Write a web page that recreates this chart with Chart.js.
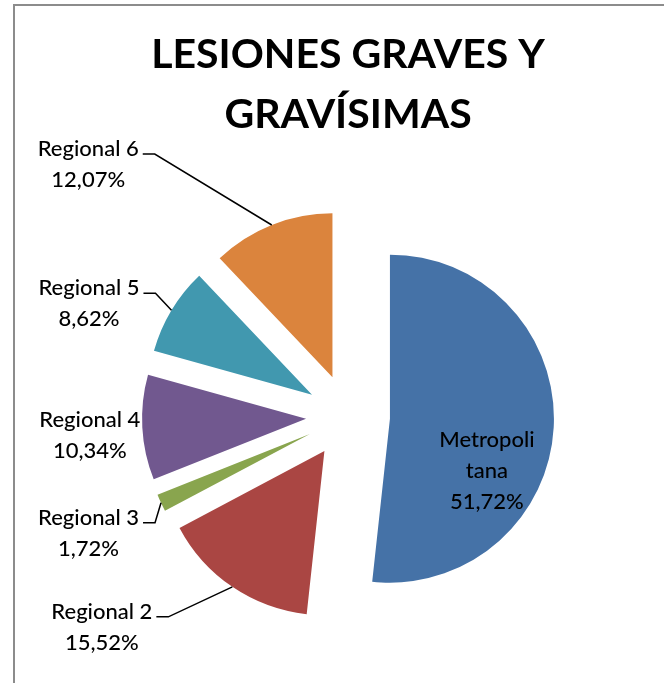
<!DOCTYPE html>
<html><head><meta charset="utf-8">
<script src="https://cdn.jsdelivr.net/npm/chart.js@4.4.1/dist/chart.umd.min.js"></script>
<style>
html,body{margin:0;padding:0;background:#fff;}
#wrap{position:relative;width:664px;height:683px;overflow:hidden;}
#frame{position:absolute;left:13px;top:4px;width:800px;height:800px;border-left:2px solid #8c8c8c;border-top:2px solid #8c8c8c;}
canvas{position:absolute;left:0;top:0;}
</style></head><body>
<div id="wrap"><div id="frame"></div><canvas id="c" width="664" height="683"></canvas></div>
<script>
const categories = ['Metropolitana', 'Regional 2', 'Regional 3', 'Regional 4', 'Regional 5', 'Regional 6'];
const percentages = [51.72, 15.52, 1.72, 10.34, 8.62, 12.07];
const sliceColors = ['#4572A7', '#AA4643', '#89A54E', '#71588F', '#4198AF', '#DB843D'];
const titleLines = ['LESIONES GRAVES Y', 'GRAVÍSIMAS'];

const explodePlugin = {
  id: 'explode',
  beforeDatasetDraw(chart, args, opts) {
    const ctx = chart.ctx, d = opts.distance;
    args.meta.data.forEach(el => {
      const mid = (el.startAngle + el.endAngle) / 2;
      ctx.save();
      ctx.translate(Math.cos(mid) * d, Math.sin(mid) * d);
      el.draw(ctx, chart.chartArea);
      ctx.restore();
    });
    return false;
  }
};

const labelPlugin = {
  id: 'sliceLabels',
  afterDatasetsDraw(chart, args, opts) {
    const ctx = chart.ctx;
    const meta = chart.getDatasetMeta(0);
    const d = chart.options.plugins.explode.distance;
    ctx.save();
    ctx.font = opts.font;
    ctx.fillStyle = opts.color;
    ctx.strokeStyle = opts.lineColor;
    ctx.lineWidth = 1.5;
    ctx.textAlign = 'center';
    ctx.textBaseline = 'middle';
    meta.data.forEach((el, i) => {
      const mid = (el.startAngle + el.endAngle) / 2;
      const cx = Math.cos(mid), cy = Math.sin(mid);
      const ax = el.x + cx * d, ay = el.y + cy * d;
      const name = categories[i];
      const br = opts.breaks[i];
      const lines = br ? [name.slice(0, br), name.slice(br)] : [name];
      lines.push(percentages[i].toFixed(2).replace('.', ',') + '%');
      const sh = opts.shifts[i];
      const lh = opts.lineHeight;
      if (opts.inside[i]) {
        const bx = ax + sh[0], by = ay + sh[1];
        lines.forEach((t, k) => ctx.fillText(t, bx, by + (k - (lines.length - 1) / 2) * lh));
        return;
      }
      const ox = ax + cx * el.outerRadius, oy = ay + cy * el.outerRadius;
      const ex = ox + sh[0], ey = oy + sh[1];
      const leader = Math.hypot(sh[0], sh[1]) > 10;
      const w = Math.max(...lines.map(t => ctx.measureText(t).width));
      const right = leader ? ex - opts.tail - 4 : ex - 2;
      const tx = right - w / 2;
      lines.forEach((t, k) => ctx.fillText(t, tx, ey - 5 + k * lh));
      if (leader) {
        ctx.beginPath();
        ctx.moveTo(ex - opts.tail, ey);
        ctx.lineTo(ex, ey);
        ctx.lineTo(ox, oy);
        ctx.stroke();
      }
    });
    ctx.restore();
  }
};

new Chart(document.getElementById('c'), {
  type: 'pie',
  data: {
    labels: categories,
    datasets: [{
      data: percentages,
      backgroundColor: sliceColors,
      borderWidth: 0,
      offset: 0
    }]
  },
  options: {
    responsive: false,
    devicePixelRatio: 1,
    animation: false,
    events: [],
    radius: 164,
    layout: { padding: { top: 0, left: 32, right: 0, bottom: 0 } },
    plugins: {
      legend: { display: false },
      tooltip: { enabled: false },
      title: {
        display: true,
        fullSize: false,
        text: titleLines,
        color: '#000',
        font: { family: 'Lato', size: 41, weight: 'bold', lineHeight: 1.46 },
        padding: { top: 25, bottom: 5 }
      },
      explode: { distance: 42 },
      sliceLabels: {
        font: '500 22px Lato',
        color: '#000',
        lineColor: '#000',
        lineHeight: 31,
        tail: 12,
        breaks: [9, 0, 0, 0, 0, 0],
        inside: [true, false, false, false, false, false],
        shifts: [[97, 52], [-64, 30], [-6, 20], [0, -3], [-16, -17], [-117, -71]]
      }
    }
  },
  plugins: [explodePlugin, labelPlugin]
});
</script>
</body></html>
